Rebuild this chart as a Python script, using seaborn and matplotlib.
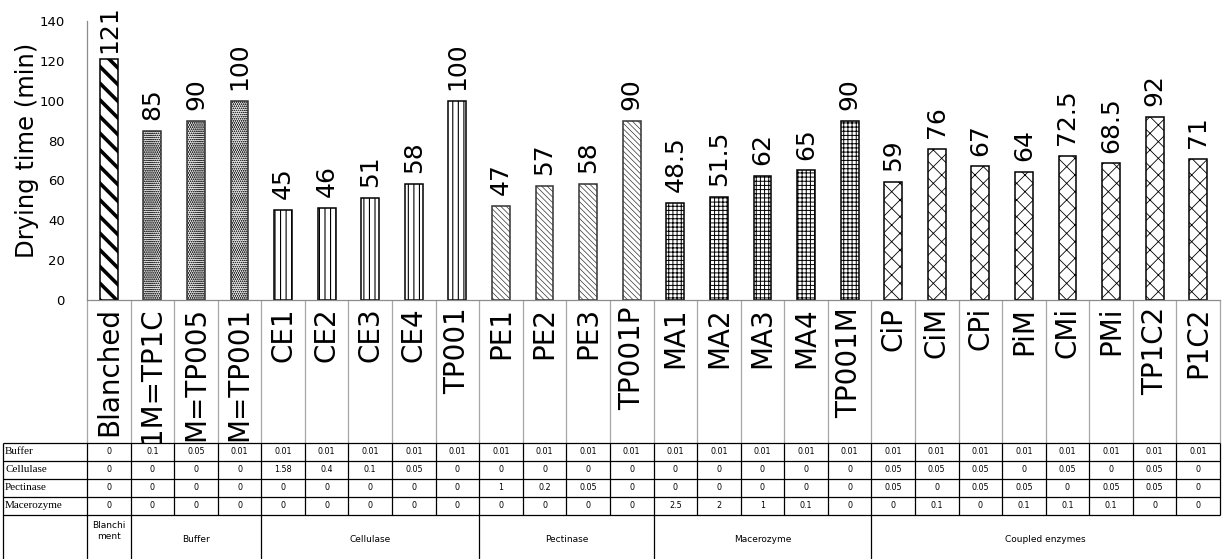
import numpy as np
import matplotlib
matplotlib.use("Agg")
import matplotlib.pyplot as plt
import seaborn as sns

sns.set_style("white")
plt.rcParams["font.family"] = ["DejaVu Sans"]
for k in ["text.color", "axes.labelcolor", "xtick.color", "ytick.color"]:
    plt.rcParams[k] = "black"

# data (long buffer labels are cut by the table in the original)
labels = ["Blanched", "1M=TP1C", "M=TP005", "M=TP001",
          "CE1", "CE2", "CE3", "CE4", "TP001",
          "PE1", "PE2", "PE3", "TP001P",
          "MA1", "MA2", "MA3", "MA4", "TP001M",
          "CiP", "CiM", "CPi", "PiM", "CMi", "PMi", "TP1C2", "P1C2"]
drying_time = [121, 85, 90, 100,
               45, 46, 51, 58, 100,
               47, 57, 58, 90,
               48.5, 51.5, 62, 65, 90,
               59, 76, 67, 64, 72.5, 68.5, 92, 71]

buffer = [0, 0.1, 0.05, 0.01,
          0.01, 0.01, 0.01, 0.01, 0.01,
          0.01, 0.01, 0.01, 0.01,
          0.01, 0.01, 0.01, 0.01, 0.01,
          0.01, 0.01, 0.01, 0.01, 0.01, 0.01, 0.01, 0.01]
cellulase = [0, 0, 0, 0,
             1.58, 0.4, 0.1, 0.05, 0,
             0, 0, 0, 0,
             0, 0, 0, 0, 0,
             0.05, 0.05, 0.05, 0, 0.05, 0, 0.05, 0]
pectinase = [0, 0, 0, 0,
             0, 0, 0, 0, 0,
             1, 0.2, 0.05, 0,
             0, 0, 0, 0, 0,
             0.05, 0, 0.05, 0.05, 0, 0.05, 0.05, 0]
macerozyme = [0, 0, 0, 0,
              0, 0, 0, 0, 0,
              0, 0, 0, 0,
              2.5, 2, 1, 0.1, 0,
              0, 0.1, 0, 0.1, 0.1, 0.1, 0, 0]
row_names = ["Buffer", "Cellulase", "Pectinase", "Macerozyme"]

groups = ["Blanchi\nment", "Buffer", "Cellulase", "Pectinase", "Macerozyme", "Coupled enzymes"]
group_sizes = [1, 3, 5, 4, 5, 8]

# hatch style per group
hatches = ["\\\\", "oooooooo", "|||", "\\\\\\\\\\\\", "++++", "xx"]
hatch_lw = [2.6, 0.35, 0.8, 0.5, 0.7, 0.6]
faces = ["white", "#e6e6e6", "white", "white", "white", "white"]

W, H = 1222, 559
fig = plt.figure(figsize=(W / 100, H / 100), dpi=100)
ax = fig.add_axes([87 / W, 259 / H, 1133 / W, 279 / H])

sns.barplot(x=labels, y=drying_time, color="white", edgecolor="black",
            linewidth=1.1, width=0.41, saturation=1, errorbar=None, ax=ax)

grp_idx = np.repeat(np.arange(len(groups)), group_sizes)
for i, p in enumerate(ax.patches):
    g = grp_idx[i]
    p.set_hatch(hatches[g])
    p.set_facecolor(faces[g])
    if hasattr(p, "set_hatch_linewidth"):
        p.set_hatch_linewidth(hatch_lw[g])
    if g in (1, 3):
        p.set_edgecolor("#333333")

n = len(labels)
ax.set_xlim(-0.5, n - 0.5)
ax.set_ylim(0, 140)
ax.set_yticks(range(0, 141, 20))
ax.set_xticks(range(n))
ax.set_xticklabels(labels, rotation=90)
ax.set_xlabel("")
ax.set_ylabel("Drying time (min)", fontsize=17.5)
ax.yaxis.set_label_coords(-0.042, 0.535)

for s in ["top", "right"]:
    ax.spines[s].set_visible(False)
for s in ["left", "bottom"]:
    ax.spines[s].set_color("#8c8c8c")
    ax.spines[s].set_linewidth(0.9)
ax.tick_params(axis="y", length=5, color="#8c8c8c", labelsize=9.5, pad=11)
ax.tick_params(axis="x", length=0, labelsize=20, pad=5)

# category separators through the label area
ax.vlines(np.arange(-0.5, n, 1), -143 / 279, 0, colors="#a6a6a6", lw=0.9,
          transform=ax.get_xaxis_transform(), clip_on=False)

# value labels
for i, v in enumerate(drying_time):
    ax.text(i, min(v + 5.5, 124), f"{v:g}", rotation=90, ha="center",
            va="bottom", fontsize=18)

# table below the chart
left_edge = -0.5 - 84 / (1133 / n)
tax = fig.add_axes([3 / W, 0, 1217 / W, 116 / H])
tax.set_facecolor("white")
tax.set_xlim(left_edge, n - 0.5)
tax.set_ylim(H, 443)
tax.set_xticks([])
tax.set_yticks([])
for s in tax.spines.values():
    s.set_visible(False)

row_edges = [443, 461, 479, 497, 515]
tax.hlines(row_edges, left_edge, n - 0.5, colors="black", lw=0.9, clip_on=False)
tax.vlines(np.arange(-0.5, n, 1), row_edges[0], row_edges[-1], colors="black",
           lw=0.9, clip_on=False)
tax.vlines([left_edge], row_edges[0], H, colors="black", lw=0.9, clip_on=False)
bounds = np.cumsum([0] + group_sizes) - 0.5
tax.vlines(bounds[:-1], row_edges[-1], H, colors="black", lw=0.9, clip_on=False)

table_rows = [buffer, cellulase, pectinase, macerozyme]
for r, (name, vals) in enumerate(zip(row_names, table_rows)):
    yc = (row_edges[r] + row_edges[r + 1]) / 2
    tax.text(left_edge + 0.05, yc, name, ha="left", va="center",
             family="Liberation Serif", fontsize=8)
    for c, v in enumerate(vals):
        tax.text(c, yc, f"{v:g}", ha="center", va="center", fontsize=5.8)

for g, name in enumerate(groups):
    xc = (bounds[g] + bounds[g + 1]) / 2
    yc = 531 if "\n" in name else 539
    tax.text(xc, yc, name, ha="center", va="center", fontsize=6.5, linespacing=1.3)

fig.savefig("out.png", dpi=100)
